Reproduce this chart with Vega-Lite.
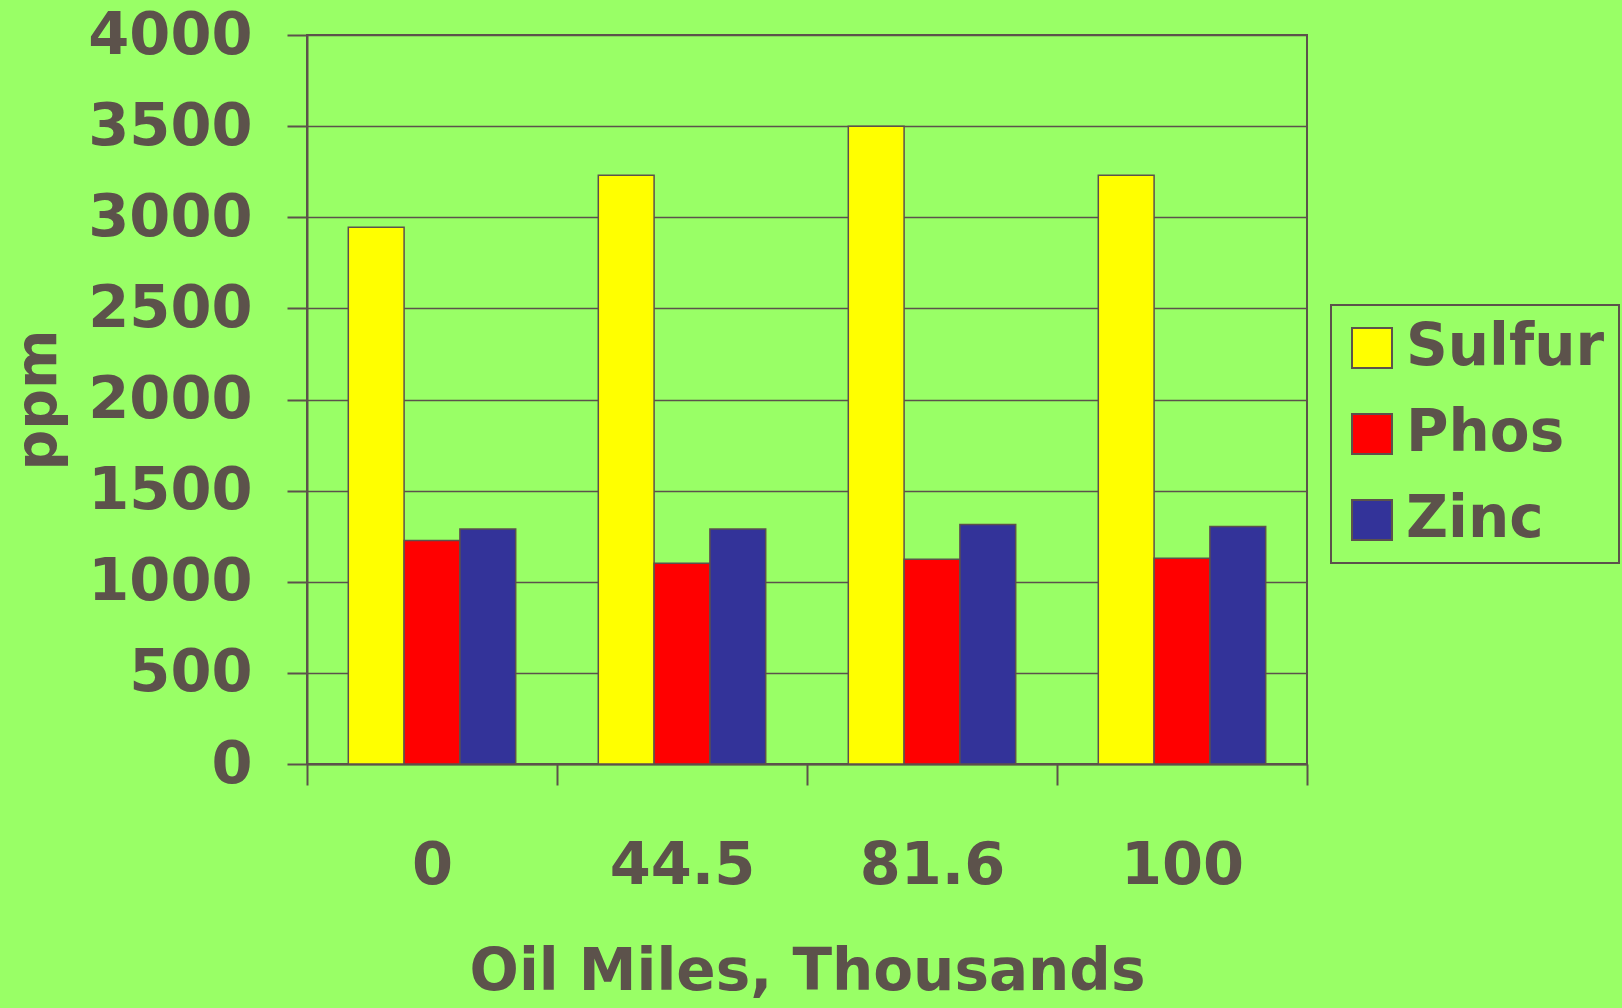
{
  "$schema": "https://vega.github.io/schema/vega-lite/v6.json",
  "width": 1000,
  "height": 729,
  "autosize": {"type": "none"},
  "padding": {"left": 307, "top": 35, "right": 315, "bottom": 244},
  "background": "#99FF66",
  "data": {
    "values": [
      {"miles": "0", "element": "Sulfur", "ppm": 2945},
      {"miles": "0", "element": "Phos", "ppm": 1227},
      {"miles": "0", "element": "Zinc", "ppm": 1290},
      {"miles": "44.5", "element": "Sulfur", "ppm": 3231},
      {"miles": "44.5", "element": "Phos", "ppm": 1102},
      {"miles": "44.5", "element": "Zinc", "ppm": 1290},
      {"miles": "81.6", "element": "Sulfur", "ppm": 3500},
      {"miles": "81.6", "element": "Phos", "ppm": 1123},
      {"miles": "81.6", "element": "Zinc", "ppm": 1314},
      {"miles": "100", "element": "Sulfur", "ppm": 3231},
      {"miles": "100", "element": "Phos", "ppm": 1129},
      {"miles": "100", "element": "Zinc", "ppm": 1303}
    ]
  },
  "config": {
    "view": {"stroke": "#5c524b", "strokeWidth": 2},
    "font": "DejaVu Sans"
  },
  "mark": {"type": "bar", "stroke": "#5c524b", "strokeWidth": 1.5},
  "encoding": {
    "x": {
      "field": "miles",
      "type": "nominal",
      "sort": ["0", "44.5", "81.6", "100"],
      "scale": {"paddingInner": 0, "paddingOuter": 0},
      "axis": {
        "title": "Oil Miles, Thousands",
        "labelAngle": 0,
        "tickBand": "extent",
        "tickSize": 21,
        "tickWidth": 2,
        "tickColor": "#5c524b",
        "domainColor": "#5c524b",
        "domainWidth": 2,
        "labelFont": "DejaVu Sans",
        "labelFontSize": 59,
        "labelFontWeight": "bold",
        "labelColor": "#5c524b",
        "labelLimit": 0,
        "labelPadding": 51,
        "titleFont": "DejaVu Sans",
        "titleFontSize": 58,
        "titleFontWeight": "bold",
        "titleColor": "#5c524b",
        "titlePadding": 48
      }
    },
    "xOffset": {
      "field": "element",
      "type": "nominal",
      "sort": ["Sulfur", "Phos", "Zinc"],
      "scale": {"paddingInner": 0, "paddingOuter": 0.74}
    },
    "y": {
      "field": "ppm",
      "type": "quantitative",
      "scale": {"domain": [0, 4000], "nice": false},
      "axis": {
        "title": "ppm",
        "values": [0, 500, 1000, 1500, 2000, 2500, 3000, 3500, 4000],
        "format": "d",
        "tickSize": 20,
        "tickWidth": 2,
        "tickColor": "#5c524b",
        "domainColor": "#5c524b",
        "domainWidth": 2,
        "grid": true,
        "gridColor": "#5c524b",
        "gridWidth": 1.5,
        "gridOpacity": 1,
        "labelFont": "DejaVu Sans",
        "labelFontSize": 59,
        "labelFontWeight": "bold",
        "labelColor": "#5c524b",
        "labelLimit": 0,
        "labelPadding": 35,
        "titleFont": "DejaVu Sans",
        "titleFontSize": 57,
        "titleFontWeight": "bold",
        "titleColor": "#5c524b",
        "titlePadding": 40
      }
    },
    "color": {
      "field": "element",
      "type": "nominal",
      "sort": ["Sulfur", "Phos", "Zinc"],
      "scale": {"domain": ["Sulfur", "Phos", "Zinc"], "range": ["#FFFF00", "#FF0000", "#333399"]},
      "legend": {
        "title": null,
        "orient": "none",
        "legendX": 1024,
        "legendY": 270,
        "symbolType": "square",
        "symbolSize": 1600,
        "symbolStrokeColor": "#5c524b",
        "symbolStrokeWidth": 2,
        "symbolOffset": -2,
        "labelFont": "DejaVu Sans",
        "labelFontSize": 58,
        "labelFontWeight": "bold",
        "labelColor": "#5c524b",
        "labelLimit": 0,
        "labelOffset": 5,
        "rowPadding": 28,
        "padding": 14,
        "strokeColor": "#5c524b",
        "encode": {"legend": {"update": {"strokeWidth": {"value": 2}}}}
      }
    }
  }
}
